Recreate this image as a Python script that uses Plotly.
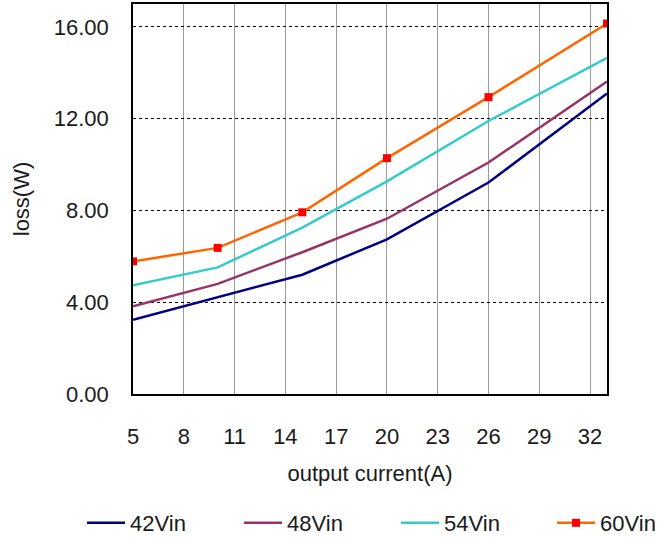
import plotly.graph_objects as go

current = [5, 10, 15, 20, 26, 33]
loss_42 = [3.24, 4.22, 5.20, 6.74, 9.22, 13.10]
loss_48 = [3.82, 4.80, 6.18, 7.64, 10.09, 13.62]
loss_54 = [4.74, 5.52, 7.25, 9.27, 11.90, 14.65]
loss_60 = [5.78, 6.37, 7.92, 10.28, 12.94, 16.15]
series_names = ["42Vin", "48Vin", "54Vin", "60Vin"]

FONT = "Liberation Sans, Arial, sans-serif"
TXT = "#1a1a1a"
FS = 22

fig = go.Figure()
fig.add_trace(go.Scatter(x=current, y=loss_42, name=series_names[0], mode="lines",
                         line=dict(color="#000080", width=2.5), legend="legend"))
fig.add_trace(go.Scatter(x=current, y=loss_48, name=series_names[1], mode="lines",
                         line=dict(color="#993366", width=2.5), legend="legend2"))
fig.add_trace(go.Scatter(x=current, y=loss_54, name=series_names[2], mode="lines",
                         line=dict(color="#33CCCC", width=2.5), legend="legend3"))
fig.add_trace(go.Scatter(x=current, y=loss_60, name=series_names[3], mode="lines+markers",
                         line=dict(color="#FF6600", width=2.5),
                         marker=dict(symbol="square", size=8, color="#FF0000"), legend="legend4"))

def leg(xpx):
    return dict(xref="container", yref="container", x=xpx / 667, xanchor="left",
                y=(537 - 523) / 537, yanchor="middle", orientation="h",
                font=dict(family=FONT, size=FS, color=TXT), bgcolor="rgba(0,0,0,0)",
                borderwidth=0, itemwidth=38)

fig.update_layout(
    width=667, height=537,
    margin=dict(l=133, r=60, t=4, b=143, autoexpand=False),
    paper_bgcolor="white", plot_bgcolor="white",
    font=dict(family=FONT, size=FS, color=TXT),
    showlegend=True,
    legend=leg(82), legend2=leg(239), legend3=leg(396), legend4=leg(552),
)
fig.update_xaxes(
    range=[5, 33], tick0=5, dtick=3, showgrid=True, gridcolor="#999999", gridwidth=1,
    showline=True, linecolor="black", linewidth=1.5, mirror=True, zeroline=False,
    ticks="", ticklabelstandoff=22,
    title=dict(text="output current(A)", standoff=17, font=dict(size=FS, color=TXT)),
)
fig.update_yaxes(
    range=[0, 17], tick0=0, dtick=4, tickformat=".2f", showgrid=True,
    gridcolor="black", gridwidth=1, griddash="3px,3px",
    showline=True, linecolor="black", linewidth=1.5, mirror=True, zeroline=False,
    ticks="", ticklabelstandoff=18,
    title=dict(text="loss(W)", standoff=18, font=dict(size=FS, color=TXT)),
)

fig.write_html("out.html", config={"displayModeBar": False},
               post_script="document.body.style.margin='0';")
